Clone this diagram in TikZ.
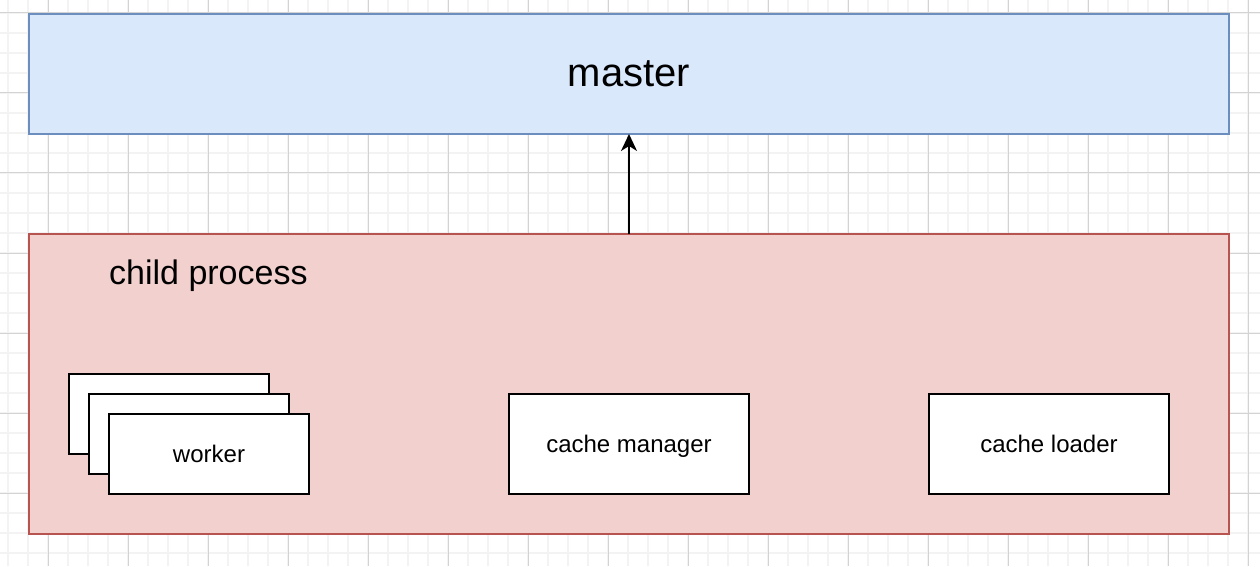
\documentclass[tikz,border=0pt]{standalone}
\usepackage{fontspec}
\setmainfont{Liberation Sans}
\usetikzlibrary{positioning, arrows.meta}

\definecolor{masterFill}{HTML}{DAE8FC}
\definecolor{masterLine}{HTML}{6C8EBF}
\definecolor{childFill}{HTML}{F2D0CE}
\definecolor{childLine}{HTML}{B85450}
\definecolor{gridMinor}{HTML}{F3F3F3}
\definecolor{gridMajor}{HTML}{D3D3D3}

\tikzset{
    proc/.style={draw=black, fill=white, line width=2pt, inner sep=0pt, outer sep=0pt,
        minimum width=200pt, minimum height=80pt, text height=18pt, text depth=2pt,
        font=\fontsize{24}{28}\selectfont},
    group/.style={line width=2pt, inner sep=0pt, outer sep=0pt, minimum width=1200pt},
}

\begin{document}
\begin{tikzpicture}[x=1pt, y=1pt]
    \useasboundingbox (0,0) rectangle (1260,566);
    % grid
    \foreach \gx in {8,28,...,1248}
        \draw [gridMinor, line width=2pt] (\gx,0) -- (\gx,566);
    \foreach \gy in {13,33,...,553}
        \draw [gridMinor, line width=2pt] (0,\gy) -- (1260,\gy);
    \foreach \gx in {48,128,...,1248}
        \draw [gridMajor, line width=1pt] (\gx,0) -- (\gx,566);
    \foreach \gy in {73,153,...,553}
        \draw [gridMajor, line width=1pt] (0,\gy) -- (1260,\gy);

    % master
    \node [group, draw=masterLine, fill=masterFill, minimum height=120pt,
        font=\fontsize{40}{48}\selectfont] (master) at (629,492) {master};

    % child
    \node [group, draw=childLine, fill=childFill, minimum height=300pt,
        below=100pt of master] (child) {};
    \node [anchor=base west, inner sep=0pt, font=\fontsize{34}{40}\selectfont]
        (child_lbl) at ([xshift=80pt, yshift=-50pt]child.north west) {child process};

    \node [proc] (w1) at (169,152) {};
    \node [proc] (w2) at ([shift={(20,-20)}]w1) {};
    \node [proc] (w3) at ([shift={(20,-20)}]w2) {worker};

    \node [proc, minimum width=240pt, minimum height=100pt] (c_mgr)
        at ([yshift=-60pt]child.center) {cache manager};
    \node [proc, minimum width=240pt, minimum height=100pt,
        right=180pt of c_mgr] (c_ldr) {cache loader};

    \draw [line width=2pt, -{Stealth[length=17pt, width=16pt, inset=5pt]}]
        (child) -- (master);
\end{tikzpicture}
\end{document}
